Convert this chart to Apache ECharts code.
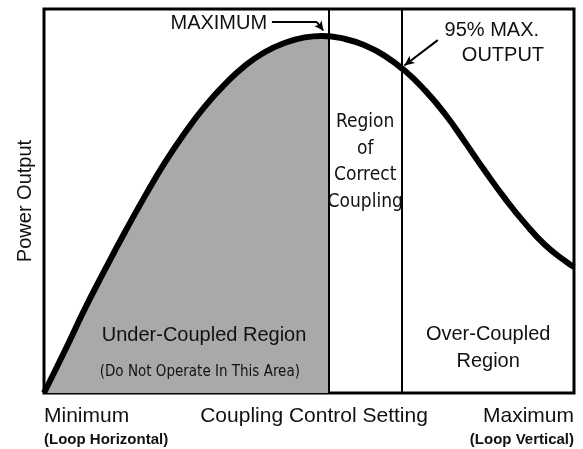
<!DOCTYPE html>
<html>
<head>
<meta charset="utf-8">
<script src="https://cdn.jsdelivr.net/npm/echarts@6/dist/echarts.min.js"></script>
<style>
  html, body { margin: 0; padding: 0; background: #fff; }
  #chart { width: 583px; height: 449px; }
</style>
</head>
<body>
<div id="chart"></div>
<script>
// coupling control setting (0 = loop horizontal, 100 = loop vertical)
const setting = [0, 4.0, 7.7, 11.5, 15.3, 19.1, 22.8, 26.6, 30.4, 34.2, 37.9, 41.7, 45.5, 49.2, 52.5, 56.8, 60.6, 64.3, 68.1, 71.9, 75.7, 79.4, 83.2, 87.0, 90.8, 94.5, 98.3, 100]
// relative power output
const power = [0, 11.2, 21.9, 32.1, 42.0, 51.4, 60.0, 67.8, 74.7, 80.5, 85.2, 88.8, 91.2, 92.6, 93.0, 92.2, 90.5, 87.8, 83.9, 78.8, 72.6, 65.4, 57.8, 50.6, 44.1, 38.6, 34.4, 32.8]

// region boundaries on the setting axis
const correctStart = 53.8
const correctEnd = 67.5

const axisEnds = ['Minimum', 'Maximum']
const axisEndNotes = ['(Loop Horizontal)', '(Loop Vertical)']
const xName = 'Coupling Control Setting'
const yName = 'Power Output'

const NARROW = '"Liberation Sans Narrow", "DejaVu Sans Condensed", sans-serif'
const SANS = '"Liberation Sans", Arial, sans-serif'

const chart = echarts.init(document.getElementById('chart'))

const curve = setting.map((x, i) => [x, power[i]])
const cut = (correctStart - setting[0]) / (setting[setting.length - 1] - setting[0])
const GRAY = '#a9a9a9'

function note(x, y, text, style) {
  return {
    coord: [x, y],
    symbol: 'circle',
    symbolSize: 1,
    itemStyle: { color: 'transparent' },
    label: Object.assign({
      show: true,
      position: 'inside',
      formatter: text,
      color: '#111',
      fontFamily: SANS,
      fontSize: 20
    }, style)
  }
}

chart.setOption({
  animation: false,
  grid: {
    left: 44,
    right: 9,
    top: 9,
    bottom: 56,
    outerBoundsMode: 'none',
    containLabel: false,
    show: true,
    borderColor: '#000',
    borderWidth: 3
  },
  xAxis: {
    type: 'value',
    min: 0,
    max: 100,
    name: xName,
    nameLocation: 'middle',
    nameGap: 13,
    nameMoveOverlap: false,
    nameTextStyle: {
      color: '#111',
      fontFamily: SANS,
      fontSize: 21,
      verticalAlign: 'top',
      padding: [0, 0, 0, 10]
    },
    axisLine: { show: false },
    axisTick: { show: false },
    splitLine: { show: false },
    axisLabel: {
      customValues: [0, 100],
      margin: 12,
      alignMinLabel: 'left',
      alignMaxLabel: 'right',
      formatter: v => '{a|' + axisEnds[v === 0 ? 0 : 1] + '}\n{b|' + axisEndNotes[v === 0 ? 0 : 1] + '}',
      rich: {
        a: { fontFamily: SANS, fontSize: 21, color: '#111', lineHeight: 23 },
        b: { fontFamily: SANS, fontSize: 15, fontWeight: 'bold', color: '#111', lineHeight: 23 }
      }
    }
  },
  yAxis: {
    type: 'value',
    min: 0,
    max: 100,
    name: yName,
    nameLocation: 'middle',
    nameGap: 9,
    nameTextStyle: { color: '#111', fontFamily: SANS, fontSize: 20 },
    axisLine: { show: false },
    axisTick: { show: false },
    axisLabel: { show: false },
    splitLine: { show: false }
  },
  series: [{
    name: 'Power Output',
    type: 'line',
    smooth: true,
    symbol: 'none',
    data: curve,
    lineStyle: { color: '#000', width: 6 },
    areaStyle: {
      opacity: 1,
      color: new echarts.graphic.LinearGradient(0, 0, 1, 0, [
        { offset: 0, color: GRAY },
        { offset: cut, color: GRAY },
        { offset: cut, color: 'rgba(255,255,255,0)' },
        { offset: 1, color: 'rgba(255,255,255,0)' }
      ])
    },
    markLine: {
      silent: true,
      symbol: 'none',
      label: { show: false },
      lineStyle: { color: '#000', type: 'solid', width: 2 },
      data: [
        { xAxis: correctStart },
        { xAxis: correctEnd },
        [
          { coord: [43.0, 96.6] },
          { coord: [51.5, 96.6] }
        ],
        [
          { coord: [51.5, 96.6] },
          { coord: [52.7, 94.4], symbol: 'arrow', symbolSize: [7, 9] }
        ],
        [
          { coord: [74.3, 91.9] },
          { coord: [68.0, 85.3], symbol: 'arrow', symbolSize: [7, 10] }
        ]
      ]
    },
    markPoint: {
      silent: true,
      data: [
        note(42.1, 96.1, 'MAXIMUM', { align: 'right', fontSize: 20 }),
        note(84.5, 94.5, '95% MAX.', { fontSize: 20 }),
        note(86.6, 88.0, 'OUTPUT', { fontSize: 20 }),
        note(60.6, 60.2, 'Region\nof\nCorrect\nCoupling', { fontFamily: NARROW, fontSize: 19, lineHeight: 26.5 }),
        note(30.2, 15.1, 'Under-Coupled Region', { fontSize: 20 }),
        note(29.4, 5.5, '(Do Not Operate In This Area)', { fontFamily: NARROW, fontSize: 15 }),
        note(83.8, 11.6, 'Over-Coupled\nRegion', { fontSize: 20, lineHeight: 27 })
      ]
    }
  }]
})
</script>
</body>
</html>
